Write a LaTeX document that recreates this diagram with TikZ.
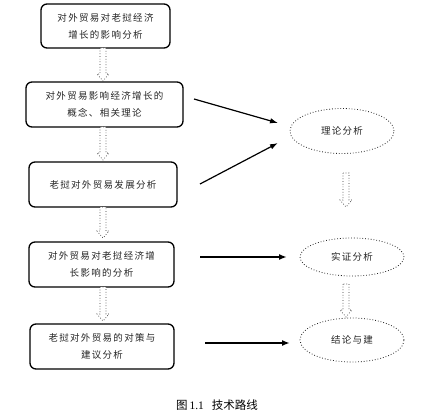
\documentclass[tikz,border=0pt]{standalone}
\usepackage{fontspec}
\setmainfont{Liberation Serif}
\newfontfamily\cjk[LetterSpace=14]{Noto Sans CJK SC}
\newfontfamily\cjkcap{Noto Sans CJK SC}
\usetikzlibrary{arrows.meta,calc,shapes.geometric}
\tikzset{
  stepbox/.style={draw=black,line width=1.3pt,rounded corners=6pt,inner sep=0pt,
    align=center,font=\cjk\fontsize{9.5}{17}\selectfont,text=black!85},
  oval/.style={draw=black!85,ellipse,dotted,line width=0.8pt,inner sep=0pt,
    font=\cjk\fontsize{9.5}{17}\selectfont,text=black!85},
  thinarrow/.style={line width=1.2pt,-{Latex[length=8pt,width=5.5pt]}},
  thickarrow/.style={line width=2pt,-{Latex[length=8pt,width=6pt]}},
  hollow/.style={draw=black!80,dotted,line width=0.7pt,fill=white},
}
\newcommand\hollowarrow[2]{%
  \draw[hollow] let \p1=(#1), \p2=(#2) in
    ($(\x1,\y1)+(-3,0)$) -- ($(\x1,\y2)+(-3,-7)$) -- ($(\x1,\y2)+(-6,-7)$) --
    (\x1,\y2) -- ($(\x1,\y2)+(6,-7)$) -- ($(\x1,\y2)+(3,-7)$) -- ($(\x1,\y1)+(3,0)$) -- cycle;}
\begin{document}
\begin{tikzpicture}[x=1pt,y=-1pt]
\useasboundingbox[fill=white] (0,0) rectangle (422,414);
% left boxes
\node[stepbox,minimum width=129pt,minimum height=44pt] (b1) at (105.5,26) {对外贸易对老挝经济\\增长的影响分析};
\node[stepbox,minimum width=157pt,minimum height=45pt] (b2) at (104.5,104.5) {对外贸易影响经济增长的\\概念、相关理论};
\node[stepbox,minimum width=148pt,minimum height=45pt] (b3) at (103,184.5) {老挝对外贸易发展分析};
\node[stepbox,minimum width=145pt,minimum height=45pt] (b4) at (101.5,264.5) {对外贸易对老挝经济增\\长影响的分析};
\node[stepbox,minimum width=144pt,minimum height=45pt] (b5) at (102,346.5) {老挝对外贸易的对策与\\建议分析};
% ellipses
\node[oval,minimum width=104pt,minimum height=45pt] (e1) at (342,131) {理论分析};
\node[oval,minimum width=104pt,minimum height=38pt] (e2) at (352,257) {实证分析};
\node[oval,minimum width=104pt,minimum height=44pt] (e3) at (352,340) {结论与建};
% hollow dotted arrows
\coordinate (h1s) at (103,48); \coordinate (h1e) at (103,81);
\coordinate (h2s) at (103,127); \coordinate (h2e) at (103,160);
\coordinate (h3s) at (103,207); \coordinate (h3e) at (103,238);
\coordinate (h4s) at (103,287); \coordinate (h4e) at (103,321);
\coordinate (h5s) at (346,173); \coordinate (h5e) at (346,207);
\coordinate (h6s) at (346,284); \coordinate (h6e) at (346,317);
\hollowarrow{h1s}{h1e}
\hollowarrow{h2s}{h2e}
\hollowarrow{h3s}{h3e}
\hollowarrow{h4s}{h4e}
\hollowarrow{h5s}{h5e}
\hollowarrow{h6s}{h6e}
% solid arrows
\coordinate (a1s) at (194,99); \coordinate (a1e) at (278,123);
\coordinate (a2s) at (200,184); \coordinate (a2e) at (278,143);
\coordinate (a3s) at (200,257); \coordinate (a3e) at (287,257);
\coordinate (a4s) at (205,343); \coordinate (a4e) at (290,343);
\draw[thinarrow] (a1s) -- (a1e);
\draw[thinarrow] (a2s) -- (a2e);
\draw[thickarrow] (a3s) -- (a3e);
\draw[thickarrow] (a4s) -- (a4e);
% caption
\node[font=\fontsize{11.5}{13}\selectfont] (cap) at (217,405) {{\cjkcap 图}\,1.1\hspace{8pt}{\cjkcap 技术路线}};
\end{tikzpicture}
\end{document}
